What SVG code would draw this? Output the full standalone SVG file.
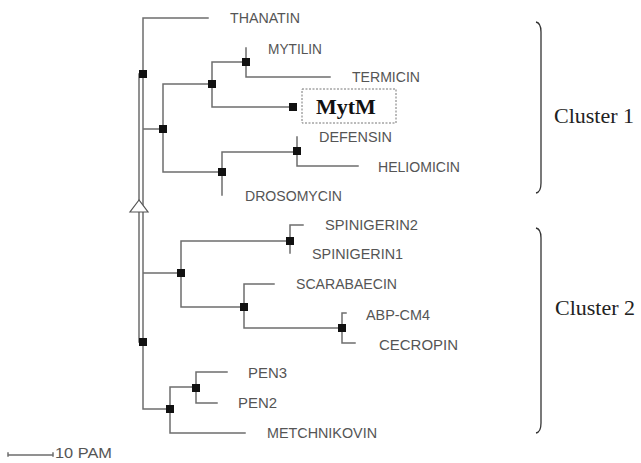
<svg xmlns="http://www.w3.org/2000/svg" width="641" height="463" viewBox="0 0 641 463">
<style>
.ln{stroke:#6e6e6e;stroke-width:1.5;fill:none;stroke-linecap:square}
.bx{fill:#111}
.lb{font-family:"Liberation Sans",Arial,sans-serif;font-size:14px;fill:#555}
.cl{font-family:"Liberation Serif","Times New Roman",serif;font-size:22px;fill:#222}
.br{stroke:#333;stroke-width:1.3;fill:none}
</style>
<rect width="641" height="463" fill="#fff"/>
<g id="connectors">
<path class="ln" d="M143 18V409M139 74V342M143 18H208M143 129H163M143 273H181M143 409H170"/>
<path class="ln" d="M163 84V172M163 84H212M212 62V107M212 62H246M246 48V77M246 77H330M212 107H293M163 172H222M222 152V195M222 152H297M297 137V166M297 166H358"/>
<path class="ln" d="M181 241V307M181 241H290M290 225V253M290 225H303M181 307H244M244 284V328M244 284H274M244 328H342M342 313V343M342 313H346M342 343H355"/>
<path class="ln" d="M170 387V433M170 387H196M196 372V403M196 372H227M196 403H217M170 433H245"/>
<path d="M139 200L130 212H148Z" fill="#fff" stroke="#555" stroke-width="1.2"/>
</g>
<g id="root-nodes">
<rect class="bx" x="139" y="70" width="8" height="8"/>
<rect class="bx" x="139" y="338" width="8" height="8"/>
</g>
<g id="node-A"><rect class="bx" x="159" y="125" width="8" height="8"/></g>
<g id="node-B"><rect class="bx" x="208" y="80" width="8" height="8"/></g>
<g id="node-C"><rect class="bx" x="242" y="58" width="8" height="8"/></g>
<g id="node-D"><rect class="bx" x="218" y="168" width="8" height="8"/></g>
<g id="node-E"><rect class="bx" x="293" y="147" width="8" height="8"/></g>
<g id="node-F"><rect class="bx" x="177" y="269" width="8" height="8"/></g>
<g id="node-G"><rect class="bx" x="286" y="237" width="8" height="8"/></g>
<g id="node-H"><rect class="bx" x="240" y="303" width="8" height="8"/></g>
<g id="node-I"><rect class="bx" x="338" y="324" width="8" height="8"/></g>
<g id="node-J"><rect class="bx" x="166" y="405" width="8" height="8"/></g>
<g id="node-K"><rect class="bx" x="192" y="384" width="8" height="8"/></g>
<g id="leaf-thanatin"><text class="lb" x="230" y="23" textLength="70" lengthAdjust="spacingAndGlyphs">THANATIN</text></g>
<g id="leaf-mytilin"><text class="lb" x="268" y="54" textLength="54" lengthAdjust="spacingAndGlyphs">MYTILIN</text></g>
<g id="leaf-termicin"><text class="lb" x="352" y="82" textLength="68" lengthAdjust="spacingAndGlyphs">TERMICIN</text></g>
<g id="leaf-mytm">
<rect class="bx" x="289" y="103" width="8" height="8"/>
<rect x="302" y="89" width="94" height="34" fill="none" stroke="#777" stroke-width="1" stroke-dasharray="2,1.5"/>
<text x="316" y="114" font-family="'Liberation Serif','Times New Roman',serif" font-weight="bold" font-size="22" fill="#111">MytM</text>
</g>
<g id="leaf-defensin"><text class="lb" x="319" y="142" textLength="73" lengthAdjust="spacingAndGlyphs">DEFENSIN</text></g>
<g id="leaf-heliomicin"><text class="lb" x="378" y="172" textLength="82" lengthAdjust="spacingAndGlyphs">HELIOMICIN</text></g>
<g id="leaf-drosomycin"><text class="lb" x="245" y="201" textLength="97" lengthAdjust="spacingAndGlyphs">DROSOMYCIN</text></g>
<g id="leaf-spinigerin2"><text class="lb" x="325" y="230" textLength="93" lengthAdjust="spacingAndGlyphs">SPINIGERIN2</text></g>
<g id="leaf-spinigerin1"><text class="lb" x="312" y="259" textLength="91" lengthAdjust="spacingAndGlyphs">SPINIGERIN1</text></g>
<g id="leaf-scarabaecin"><text class="lb" x="296" y="289" textLength="101" lengthAdjust="spacingAndGlyphs">SCARABAECIN</text></g>
<g id="leaf-abpcm4"><text class="lb" x="366" y="320" textLength="64" lengthAdjust="spacingAndGlyphs">ABP-CM4</text></g>
<g id="leaf-cecropin"><text class="lb" x="379" y="350" textLength="79" lengthAdjust="spacingAndGlyphs">CECROPIN</text></g>
<g id="leaf-pen3"><text class="lb" x="248" y="378" textLength="39" lengthAdjust="spacingAndGlyphs">PEN3</text></g>
<g id="leaf-pen2"><text class="lb" x="238" y="408" textLength="39" lengthAdjust="spacingAndGlyphs">PEN2</text></g>
<g id="leaf-metchnikovin"><text class="lb" x="267" y="438" textLength="110" lengthAdjust="spacingAndGlyphs">METCHNIKOVIN</text></g>
<g id="scale">
<path class="ln" d="M8 455H53M8 453V456M53 453V456" stroke-width="1.2"/>
<text class="lb" x="55" y="458" textLength="57" lengthAdjust="spacingAndGlyphs">10 PAM</text>
</g>
<g id="cluster1">
<path class="br" d="M536 22Q541 23 541 32V183Q541 192 536 193"/>
<text class="cl" x="554" y="123">Cluster 1</text>
</g>
<g id="cluster2">
<path class="br" d="M536 228Q541 229 541 238V423Q541 432 536 433"/>
<text class="cl" x="555" y="315">Cluster 2</text>
</g>
</svg>
